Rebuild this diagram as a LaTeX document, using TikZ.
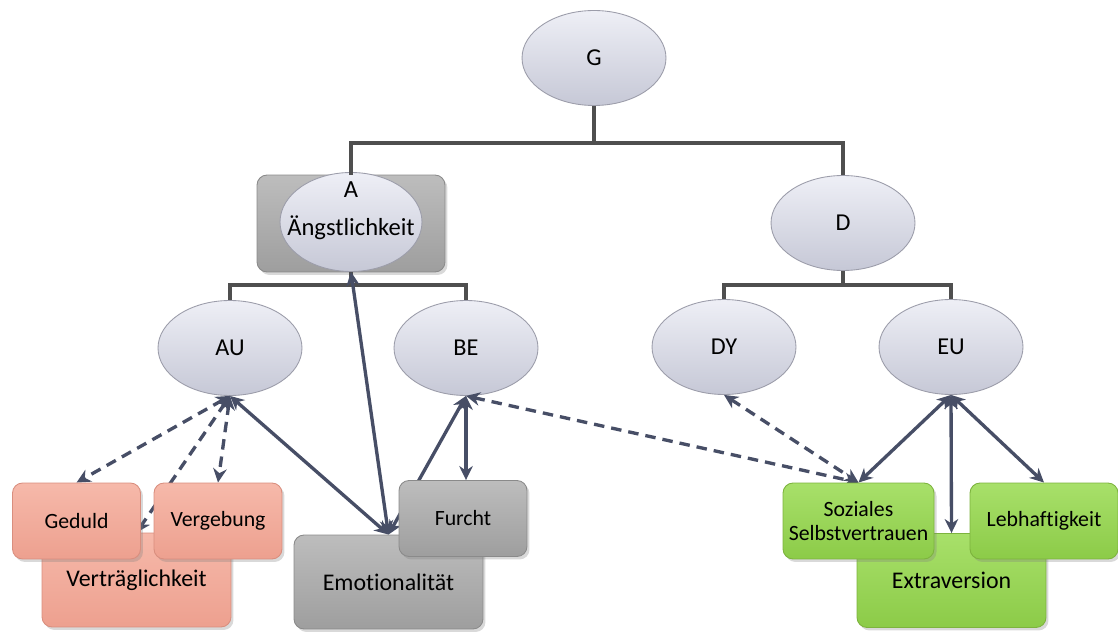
\documentclass[tikz,border=0pt]{standalone}
\usepackage{fontspec}
\setmainfont{Carlito}[Ligatures=NoCommon]
\usetikzlibrary{shapes.geometric,arrows.meta,shadows}
\pgfdeclarelayer{under}
\pgfdeclarelayer{over}
\pgfsetlayers{under,main,over}

\definecolor{elltop}{HTML}{EEEFF6}
\definecolor{ellbot}{HTML}{C6C8D6}
\definecolor{ellline}{HTML}{9C9DAA}
\definecolor{treeline}{HTML}{4F4F4F}
\definecolor{linkline}{HTML}{474E66}
\definecolor{salmontop}{HTML}{F6B9AA}
\definecolor{salmonbot}{HTML}{EDA08F}
\definecolor{salmonline}{HTML}{D98E7E}
\definecolor{graytop}{HTML}{BDBDBD}
\definecolor{graybot}{HTML}{9E9E9E}
\definecolor{grayline}{HTML}{8A8A8A}
\definecolor{greentop}{HTML}{A8E06A}
\definecolor{greenbot}{HTML}{8CCB48}
\definecolor{greenline}{HTML}{7DB33E}

\begin{document}
\begin{tikzpicture}[x=0.02cm,y=-0.02cm,
  factor/.style={ellipse, draw=ellline, line width=0.5pt,
    top color=elltop, bottom color=ellbot,
    minimum width=2.88cm, minimum height=1.9cm, inner sep=0pt,
    font=\fontsize{13.8}{16}\selectfont},
  boxbase/.style={rounded corners=0.2cm, line width=0.5pt, inner sep=0pt,
    drop shadow={shadow xshift=0.5mm, shadow yshift=-0.6mm, opacity=0.3}},
  domainbox/.style={boxbase, minimum width=3.78cm, minimum height=1.88cm,
    font=\fontsize{13.6}{16}\selectfont},
  facetbox/.style={boxbase, minimum width=2.56cm, minimum height=1.52cm,
    align=center, font=\fontsize{12.4}{13.8}\selectfont},
  salmon/.style={draw=salmonline, top color=salmontop, bottom color=salmonbot},
  grayish/.style={draw=grayline, top color=graytop, bottom color=graybot},
  greenish/.style={draw=greenline, top color=greentop, bottom color=greenbot},
  tree/.style={draw=treeline, line width=2pt},
  link/.style={draw=linkline, line width=1.9pt,
    {Stealth[length=2.8mm,width=2.7mm,inset=0.9mm]}-{Stealth[length=2.8mm,width=2.7mm,inset=0.9mm]}},
  weak/.style={link, dash pattern=on 2.1mm off 1.4mm}]

\useasboundingbox (0,0) rectangle (1118,634);

% ---- box layer: domain boxes and the frame around A ----
\begin{pgfonlayer}{under}
  \node[boxbase, grayish, minimum width=3.76cm, minimum height=1.94cm] (Abox) at (351,223.5) {};
  \node[domainbox, salmon]   (Vertr) at (136.5,580) {Verträglichkeit};
  \node[domainbox, grayish]  (Emot)  at (388.5,582) {Emotionalität};
  \node[domainbox, greenish] (Extra) at (951.5,580.5) {Extraversion};
\end{pgfonlayer}

% ---- factor ellipses ----
\node[factor] (G)  at (594,58) {G};
\node[factor, minimum width=2.84cm, minimum height=1.98cm] (A) at (351,222) {};
\node[font=\fontsize{14}{21.5}\selectfont, align=center] (Atext) at (351,211) {A\\Ängstlichkeit};
\node[factor] (D)  at (843,223) {D};
\node[factor] (AU) at (230,348) {AU};
\node[factor] (BE) at (466,348) {BE};
\node[factor] (DY) at (724,347) {DY};
\node[factor] (EU) at (951,347) {EU};

% ---- hierarchy ----
\coordinate (jG) at (594,143);
\coordinate (jA) at (351,285);
\coordinate (jD) at (843,285);
\draw[tree] (G.south) -- (jG) -| (Abox.north);
\draw[tree] (jG) -| (D.north);
\draw[tree] (A.south) -- (jA) -| (AU.north);
\draw[tree] (jA) -| (BE.north);
\draw[tree] (D.south) -- (jD) -| (DY.north);
\draw[tree] (jD) -| (EU.north);

% ---- facet boxes, on top of the links ----
\begin{pgfonlayer}{over}
  \node[facetbox, salmon]   (Geduld) at (76.5,521) {Geduld};
  \node[facetbox, salmon]   (Verg)   at (218,521) {Vergebung};
  \node[facetbox, grayish]  (Furcht) at (463,518.5) {Furcht};
  \node[facetbox, greenish, minimum width=3.02cm] (Soz) at (858.5,521) {Soziales\\Selbstvertrauen};
  \node[facetbox, greenish, minimum width=2.96cm] (Lebh) at (1044,521) {Lebhaftigkeit};
\end{pgfonlayer}

% ---- links ----
\draw[weak] (AU.south) -- (Geduld.north);
\draw[weak] (AU.south) -- (Verg.north);
\draw[weak] (AU.south) -- (Vertr.north);
\draw[link] (AU.south) -- (Emot.north);
\draw[link] (A.south) -- (Emot.north);
\draw[link] (BE.south) -- (Emot.north);
\draw[link] (BE.south) -- (BE.south |- Furcht.north);
\draw[weak] (BE.south) -- (Soz.north);
\draw[weak] (DY.south) -- (Soz.north);
\draw[link] (EU.south) -- (Soz.north);
\draw[link] (EU.south) -- (Extra.north);
\draw[link] (EU.south) -- (Lebh.north);
\end{tikzpicture}
\end{document}
